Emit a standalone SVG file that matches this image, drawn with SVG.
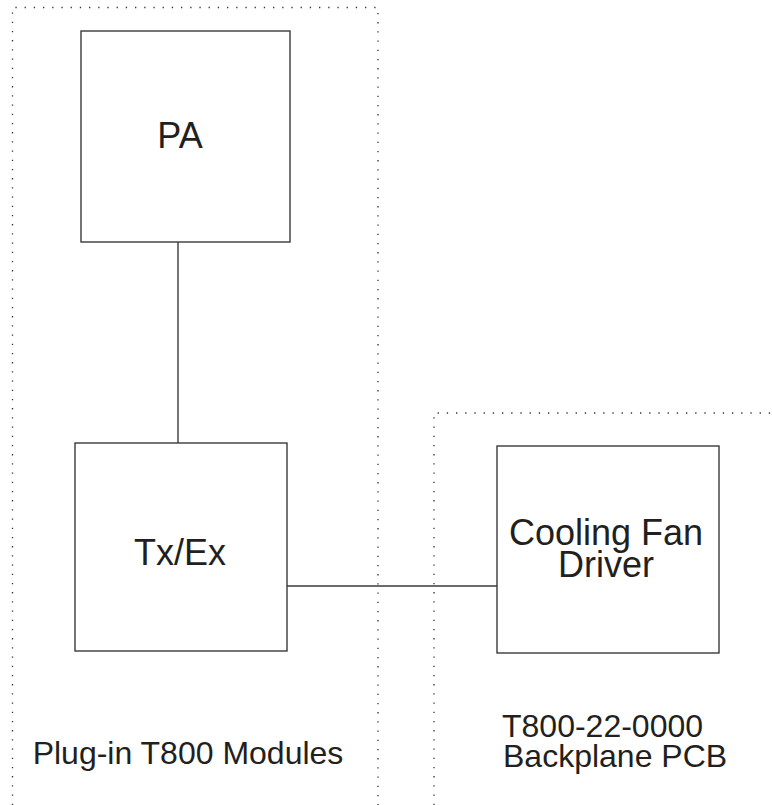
<svg xmlns="http://www.w3.org/2000/svg" width="772" height="805" viewBox="0 0 772 805">
<style>
.box{fill:#fff;stroke:#3a3a3a;stroke-width:1.4}
.dot{fill:none;stroke:#333;stroke-width:1.3;stroke-dasharray:1.3 7.9}
.wire{fill:none;stroke:#3a3a3a;stroke-width:1.4}
text{font-family:"Liberation Sans",Arial,sans-serif;fill:#231f20;text-anchor:middle}
.big{font-size:36px}
.lab{font-size:32px}
</style>
<rect width="772" height="805" fill="#fff"/>
<g id="regions">
<path class="dot" d="M12.5,805 V7.5 H378 V805"/>
<path class="dot" d="M434,805 V413 H772"/>
</g>
<g id="connectors">
<line class="wire" x1="178" y1="242" x2="178" y2="443"/>
<line class="wire" x1="287" y1="586" x2="497" y2="586"/>
</g>
<g id="pa">
<rect class="box" x="81" y="31" width="209" height="211"/>
<text class="big" x="180" y="148">PA</text>
</g>
<g id="txex">
<rect class="box" x="75" y="443" width="212" height="208"/>
<text class="big" x="180" y="565">Tx/Ex</text>
</g>
<g id="fan">
<rect class="box" x="497" y="446" width="222" height="207"/>
<text class="big" x="606" y="545">Cooling Fan</text>
<text class="big" x="606" y="577">Driver</text>
</g>
<g id="labels">
<text class="lab" x="188" y="764">Plug-in T800 Modules</text>
<text class="lab" x="502" y="737" style="text-anchor:start">T800-22-0000</text>
<text class="lab" x="503" y="767" style="text-anchor:start">Backplane PCB</text>
</g>
</svg>
